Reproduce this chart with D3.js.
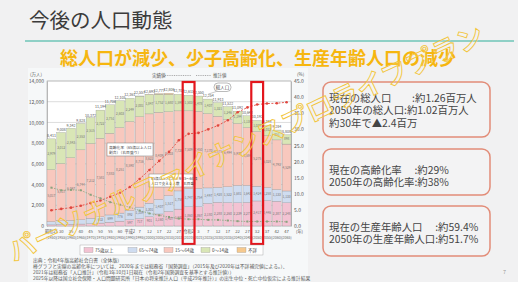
<!DOCTYPE html>
<html>
<head>
<meta charset="utf-8">
<script src="https://cdn.jsdelivr.net/npm/d3@7"></script>
<style>
body { margin: 0; background: #f1f1f2; }
svg { display: block; font-family: "Noto Sans CJK JP", "Noto Sans", sans-serif; }
</style>
</head>
<body>
<div id="slide"></div>
<script>
const width = 518;
const height = 282;

// data (万人 / %), 高齢社会白書 令和4年版
const years = ["1950","1955","1960","1965","1970","1975","1980","1985","1990","1995","2000","2005","2010","2015","2020","2021","2025","2030","2035","2040","2045","2050","2055","2060","2065"];
const eraLabels = ["昭和25","30","35","40","45","50","55","60","平成2","7","12","17","22","27","令和2","3","7","12","17","22","27","32","37","42","47"];
const age0to14 = [2979,3012,2843,2553,2515,2722,2751,2603,2249,2001,1847,1752,1680,1595,1503,1478,1407,1321,1246,1194,1138,1077,1012,951,898];
const age15to64 = [5017,5517,6047,6744,7212,7581,7883,8251,8590,8716,8622,8409,8103,7728,7509,7450,7170,6875,6494,5978,5584,5275,5028,4793,4529];
const age65to74 = [309,359,375,418,516,602,699,776,892,1109,1301,1407,1517,1755,1747,1754,1497,1428,1522,1681,1643,1424,1258,1133,1133];
const age75plus = [107,139,163,189,224,284,366,471,597,717,901,1160,1407,1632,1860,1867,2180,2288,2260,2239,2277,2417,2446,2387,2248];
const ageUnknown = [0,0,0,0,0,0,0,0,0,4,22,49,99,0,0,0,0,0,0,0,0,0,0,0,0];
const totals = [8411,9008,9342,9828,10372,11194,11706,12105,12361,12557,12693,12777,12806,12709,12615,12550,12254,11913,11522,11092,10642,10192,9744,9284,8808];
const agingRate = [4.9,5.3,5.7,6.3,7.1,7.9,9.1,10.3,12.1,14.6,17.4,20.2,23.0,26.6,28.6,28.9,30.0,31.2,32.8,35.3,36.8,37.7,38.0,38.1,38.4];
const supportRatio = [11.9,11.1,11.2,11.1,9.7,8.6,7.4,6.6,5.8,4.8,3.9,3.3,2.8,2.3,2.1,2.1,1.9,1.9,1.7,1.5,1.4,1.4,1.4,1.4,1.3];
const leftTicks = [0,2000,4000,6000,8000,10000,12000,14000];
const rightTicks = [0,5,10,15,20,25,30,35,40,45];
const highlightYears = ["2020","2050"];

const keys = ["age75plus","age65to74","age15to64","age0to14","ageUnknown"];
const colors = {age75plus:"#f3c3d3", age65to74:"#cfdcf0", age15to64:"#f8c8be", age0to14:"#d9e6b6", ageUnknown:"#f6c98e"};
const legendItems = [
    {key:"age75plus", label:"75歳以上"},
    {key:"age65to74", label:"65〜74歳"},
    {key:"age15to64", label:"15〜64歳"},
    {key:"age0to14", label:"0〜14歳"},
    {key:"ageUnknown", label:"不詳"}
];

const boxes = [
    {y:82, h:55, lines:["現在の総人口　　:約1.26百万人","2050年の総人口:約1.02百万人","約30年で▲2.4百万"], base:[101.5,114,127]},
    {y:149, h:46, lines:["現在の高齢化率　 :約29%","2050年の高齢化率:約38%"], base:[173.5,185.5]},
    {y:206, h:50, lines:["現在の生産年齢人口　 :約59.4%","2050年の生産年齢人口:約51.7%"], base:[231,243]}
];

const table = years.map((y, i) => ({
    year: y,
    age0to14: age0to14[i],
    age15to64: age15to64[i],
    age65to74: age65to74[i],
    age75plus: age75plus[i],
    ageUnknown: ageUnknown[i]
}));

const svg = d3.select("#slide").append("svg")
    .attr("width", width)
    .attr("height", height);

svg.append("rect").attr("width", width).attr("height", height).attr("fill", "#f1f1f2");

// title
svg.append("text")
    .attr("x", 29).attr("y", 28)
    .attr("font-size", 20.5)
    .attr("fill", "#3b3b3b")
    .text("今後の人口動態");

svg.append("line")
    .attr("x1", 25).attr("x2", 514)
    .attr("y1", 41).attr("y2", 41)
    .attr("stroke", "#8fd0c6")
    .attr("stroke-width", 2);

svg.append("text")
    .attr("x", 60).attr("y", 65)
    .attr("font-size", 18)
    .attr("font-weight", "bold")
    .attr("fill", "#f6b60f")
    .text("総人口が減少、少子高齢化、生産年齢人口の減少");

// chart panel
svg.append("rect")
    .attr("x", 28).attr("y", 68)
    .attr("width", 280).attr("height", 214)
    .attr("fill", "#f6f8f9");

const x = d3.scaleBand().domain(years).range([47, 291]).paddingInner(0.1);
const yL = d3.scaleLinear().domain([0, 14000]).range([226, 81]);
const yR = d3.scaleLinear().domain([0, 45]).range([226, 81]);

const chart = svg.append("g");

chart.append("rect")
    .attr("x", 47).attr("y", 81)
    .attr("width", 244).attr("height", 145)
    .attr("fill", "#ffffff")
    .attr("stroke", "#9a9a9a")
    .attr("stroke-width", 0.5);

chart.append("g").selectAll("line")
    .data(leftTicks.slice(1))
    .join("line")
    .attr("x1", 47).attr("x2", 291)
    .attr("y1", d => yL(d)).attr("y2", d => yL(d))
    .attr("stroke", "#b8b8b8")
    .attr("stroke-width", 0.5);

// left axis
const axL = chart.append("g")
    .attr("transform", "translate(47,0)")
    .call(d3.axisLeft(yL).tickValues(leftTicks).tickSize(0).tickPadding(3).tickFormat(d3.format(",")));
axL.select(".domain").attr("stroke", "#888").attr("stroke-width", 0.5);
axL.selectAll("text").attr("font-size", 5).attr("fill", "#555").attr("font-family", "Noto Sans CJK JP");
chart.append("text").attr("x", 36).attr("y", 76).attr("font-size", 4.5).attr("fill", "#555").attr("text-anchor", "middle").text("(万人)");

// right axis
const axR = chart.append("g")
    .attr("transform", "translate(291,0)")
    .call(d3.axisRight(yR).tickValues(rightTicks).tickSize(0).tickPadding(3).tickFormat(d3.format(".1f")));
axR.select(".domain").attr("stroke", "#888").attr("stroke-width", 0.5);
axR.selectAll("text").attr("font-size", 5).attr("fill", "#555").attr("font-family", "Noto Sans CJK JP");
chart.append("text").attr("x", 297).attr("y", 76).attr("font-size", 4.5).attr("fill", "#555").text("(%)");

// stacked bars
const series = d3.stack().keys(keys)(table);
const barG = chart.append("g");
barG.selectAll("g")
    .data(series)
    .join("g")
    .attr("fill", d => colors[d.key])
    .selectAll("rect")
    .data(d => d.filter(p => p[1] > p[0]))
    .join("rect")
    .attr("x", d => x(d.data.year))
    .attr("y", d => yL(d[1]))
    .attr("width", x.bandwidth())
    .attr("height", d => yL(d[0]) - yL(d[1]))
    .attr("stroke", "#8d8d8d")
    .attr("stroke-width", 0.3);

// tiny value labels inside segments
series.forEach(s => {
    if (s.key === "ageUnknown") return;
    barG.append("g").selectAll("text")
        .data(s.filter(p => yL(p[0]) - yL(p[1]) > 6))
        .join("text")
        .attr("x", d => x(d.data.year) + x.bandwidth() / 2)
        .attr("y", d => (yL(d[0]) + yL(d[1])) / 2 + 1)
        .attr("text-anchor", "middle")
        .attr("font-size", 3.2)
        .attr("fill", "#777")
        .text(d => d3.format(",")(d[1] - d[0]));
});

// totals above bars
chart.append("g").selectAll("text")
    .data(years)
    .join("text")
    .attr("x", d => x(d) + x.bandwidth() / 2)
    .attr("y", (d, i) => yL(totals[i]) - 2)
    .attr("text-anchor", "middle")
    .attr("font-size", 3.6)
    .attr("fill", "#555")
    .text((d, i) => d3.format(",")(totals[i]));

// x labels
chart.append("g").selectAll("text")
    .data(years)
    .join("text")
    .attr("x", d => x(d) + x.bandwidth() / 2)
    .attr("y", 233)
    .attr("text-anchor", "middle")
    .attr("font-size", 4.2)
    .attr("fill", "#555")
    .text((d, i) => eraLabels[i]);
chart.append("g").selectAll("text")
    .data(years)
    .join("text")
    .attr("x", d => x(d) + x.bandwidth() / 2)
    .attr("y", 239)
    .attr("text-anchor", "middle")
    .attr("font-size", 3.6)
    .attr("fill", "#666")
    .text(d => "(" + d + ")");
chart.append("text").attr("x", 296).attr("y", 233).attr("font-size", 4.2).attr("fill", "#555").text("(年)");

// lines
const cx = d => x(d) + x.bandwidth() / 2;
const lineAging = d3.line().x((d, i) => cx(years[i])).y(d => yR(d));
chart.append("path")
    .datum(agingRate)
    .attr("d", lineAging)
    .attr("fill", "none")
    .attr("stroke", "#e0463e")
    .attr("stroke-width", 0.9)
    .attr("stroke-dasharray", "2,1.5");
chart.append("g").selectAll("circle")
    .data(agingRate)
    .join("circle")
    .attr("cx", (d, i) => cx(years[i]))
    .attr("cy", d => yR(d))
    .attr("r", 1.3)
    .attr("fill", "#e0463e");

chart.append("path")
    .datum(supportRatio)
    .attr("d", lineAging)
    .attr("fill", "none")
    .attr("stroke", "#8aa37e")
    .attr("stroke-width", 0.8)
    .attr("stroke-dasharray", "1.5,1.2");
chart.append("g").selectAll("rect")
    .data(supportRatio)
    .join("rect")
    .attr("x", (d, i) => cx(years[i]) - 1)
    .attr("y", d => yR(d) - 1)
    .attr("width", 2).attr("height", 2)
    .attr("fill", "#8aa37e");

// 実績値 / 推計値
chart.append("text").attr("x", 152).attr("y", 77).attr("font-size", 4.5).attr("fill", "#555").text("実績値");
chart.append("line").attr("x1", 165).attr("x2", 191).attr("y1", 75.5).attr("y2", 75.5)
    .attr("stroke", "#777").attr("stroke-width", 0.6).attr("stroke-dasharray", "1,0.8");
chart.append("line").attr("x1", 196).attr("x2", 211).attr("y1", 75.5).attr("y2", 75.5)
    .attr("stroke", "#777").attr("stroke-width", 0.6).attr("stroke-dasharray", "1,0.8");
chart.append("text").attr("x", 213).attr("y", 77).attr("font-size", 4.5).attr("fill", "#555").text("推計値");

// callouts
chart.append("line").attr("x1", 218).attr("y1", 91).attr("x2", cx("2025")).attr("y2", yL(totals[16]) - 5)
    .attr("stroke", "#777").attr("stroke-width", 0.4);
chart.append("rect").attr("x", 214).attr("y", 83).attr("width", 17).attr("height", 8.5).attr("rx", 4)
    .attr("fill", "#fff").attr("stroke", "#777").attr("stroke-width", 0.5);
chart.append("text").attr("x", 222.5).attr("y", 89).attr("text-anchor", "middle").attr("font-size", 4.5).attr("fill", "#444").text("総人口");

chart.append("rect").attr("x", 107).attr("y", 143).attr("width", 46).attr("height", 13)
    .attr("fill", "#fff").attr("stroke", "#777").attr("stroke-width", 0.5);
chart.append("text").attr("x", 109).attr("y", 148.5).attr("font-size", 3.8).attr("fill", "#444").text("高齢化率（65歳以上人口");
chart.append("text").attr("x", 109).attr("y", 153.5).attr("font-size", 3.8).attr("fill", "#444").text("割合）（右目盛り）");

chart.append("rect").attr("x", 149).attr("y", 174).attr("width", 44).attr("height", 13)
    .attr("fill", "#fff").attr("stroke", "#777").attr("stroke-width", 0.5);
chart.append("text").attr("x", 151).attr("y", 179.5).attr("font-size", 3.6).attr("fill", "#444").text("65歳以上人口1人を15〜64歳");
chart.append("text").attr("x", 151).attr("y", 184.5).attr("font-size", 3.6).attr("fill", "#444").text("人口で支える人数（右目盛）");

// highlight boxes
chart.append("g").selectAll("rect")
    .data(highlightYears)
    .join("rect")
    .attr("x", d => x(d) - 1.5)
    .attr("y", 82)
    .attr("width", x.bandwidth() + 3)
    .attr("height", 162)
    .attr("fill", "none")
    .attr("stroke", "#e3161d")
    .attr("stroke-width", 2.2);

// legend
const lg = chart.append("g");
lg.append("rect").attr("x", 80).attr("y", 245).attr("width", 183).attr("height", 10)
    .attr("fill", "#fff").attr("stroke", "#999").attr("stroke-width", 0.4);
const legendX = [84, 128, 164, 201, 237];
legendItems.forEach((d, i) => {
    lg.append("rect").attr("x", legendX[i]).attr("y", 247.5).attr("width", 9).attr("height", 5)
        .attr("fill", colors[d.key]).attr("stroke", "#888").attr("stroke-width", 0.3);
    lg.append("text").attr("x", legendX[i] + 11).attr("y", 252).attr("font-size", 4.5).attr("fill", "#444").text(d.label);
});

// source
const sourceLines = [
    "出典：令和4年版高齢社会白書（全体版）",
    "棒グラフと実線の高齢化率については、2020年までは総務省「国勢調査」（2015年及び2020年は不詳補完値による。）、",
    "2021年は総務省「人口推計」（令和3年10月1日現在（令和2年国勢調査を基準とする推計値））",
    "2025年以降は国立社会保障・人口問題研究所「日本の将来推計人口（平成29年推計）」の出生中位・死亡中位仮定による推計結果"
];
svg.append("g").selectAll("text")
    .data(sourceLines)
    .join("text")
    .attr("x", 33)
    .attr("y", (d, i) => 262 + i * 6)
    .attr("font-size", 4.8)
    .attr("fill", "#555")
    .text(d => d);

// right info boxes
boxes.forEach(b => {
    svg.append("rect")
        .attr("x", 323).attr("y", b.y)
        .attr("width", 167).attr("height", b.h)
        .attr("rx", 8)
        .attr("fill", "#f3f3f4")
        .attr("stroke", "#e28c78")
        .attr("stroke-width", 1.5);
    b.lines.forEach((t, i) => {
        svg.append("text")
            .attr("x", 329)
            .attr("y", b.base[i])
            .attr("font-size", 10.4)
            .attr("fill", "#444")
            .text(t);
    });
});

svg.append("text").attr("x", 503).attr("y", 274).attr("font-size", 5.5).attr("fill", "#999").text("7");

// watermark
svg.append("text")
    .attr("transform", "translate(14,262) rotate(-25)")
    .attr("font-size", 27)
    .attr("font-weight", "bold")
    .attr("fill", "rgba(255,255,255,0.15)")
    .attr("stroke", "#f2c53a")
    .attr("stroke-width", 0.9)
    .attr("letter-spacing", 0.5)
    .text("パーソナルファイナンスプロライフプラン");
</script>
</body>
</html>
